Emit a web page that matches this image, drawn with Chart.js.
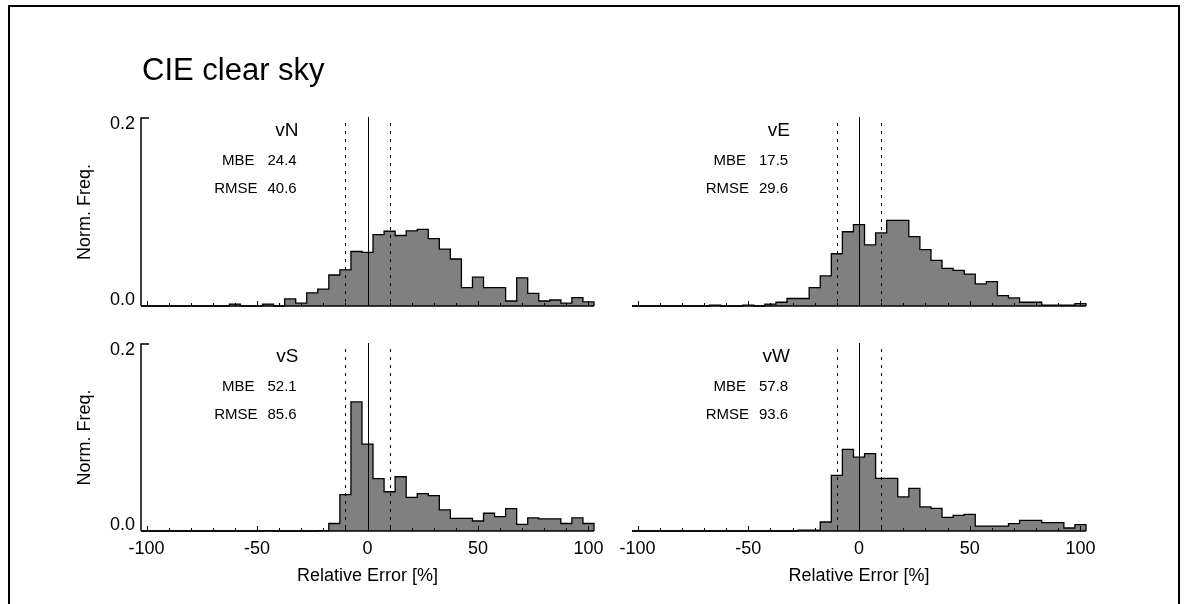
<!DOCTYPE html>
<html>
<head>
    <title>CIE clear sky</title>
    <script src="https://cdn.jsdelivr.net/npm/chart.js"></script>
    <style>
        body { margin: 0; background: #fff; }
        #wrap { position: relative; width: 1184px; height: 604px; overflow: hidden; }
        #frame { position: absolute; left: 8px; top: 5px; width: 1168px; height: 620px;
                 border: 2px solid #000; border-bottom: none; }
        canvas { position: absolute; left: 0; top: 0; }
    </style>
</head>
<body>
<div id="wrap">
    <div id="frame"></div>
    <canvas id="c0" width="1184" height="604"></canvas>
    <canvas id="c1" width="1184" height="604"></canvas>
    <canvas id="c2" width="1184" height="604"></canvas>
    <canvas id="c3" width="1184" height="604"></canvas>
</div>

<script>
// bin centres of the histograms (relative error, %)
var binCenters = [-100, -95, -90, -85, -80, -75, -70, -65, -60, -55, -50, -45, -40, -35, -30, -25, -20,
    -15, -10, -5, 0, 5, 10, 15, 20, 25, 30, 35, 40, 45, 50, 55, 60, 65, 70, 75, 80, 85, 90, 95, 100];

// normalised frequencies, one per bin
var freqN = [0, 0, 0, 0, 0, 0, 0, 0, 0.002, 0, 0, 0.002, 0, 0.0075, 0.003, 0.014, 0.018,
    0.033, 0.0385, 0.058, 0.057, 0.076, 0.0795, 0.075, 0.080, 0.0816, 0.0717, 0.0606, 0.050, 0.0196,
    0.0307, 0.0196, 0.0196, 0.0053, 0.030, 0.0135, 0.0053, 0.0064, 0.003, 0.009, 0.0043];
var freqE = [0, 0, 0, 0, 0, 0, 0, 0.001, 0, 0, 0.001, 0, 0.002, 0.004, 0.008, 0.008, 0.0196,
    0.032, 0.0556, 0.079, 0.0866, 0.065, 0.0777, 0.091, 0.091, 0.0738, 0.060, 0.0485, 0.040, 0.0378,
    0.034, 0.0235, 0.026, 0.011, 0.0086, 0.004, 0.004, 0.001, 0.001, 0.001, 0.0025];
var freqS = [0, 0, 0, 0, 0, 0, 0, 0, 0, 0, 0, 0.0005, 0, 0, 0, 0, 0.0005,
    0.008, 0.039, 0.138, 0.093, 0.056, 0.042, 0.058, 0.036, 0.040, 0.0378, 0.0225, 0.0135, 0.0135,
    0.0107, 0.019, 0.0153, 0.024, 0.007, 0.014, 0.013, 0.013, 0.008, 0.014, 0.008];
var freqW = [0, 0, 0, 0, 0, 0, 0, 0, 0, 0, 0, 0, 0, 0, 0, 0.001, 0.001,
    0.0096, 0.0595, 0.0873, 0.079, 0.0827, 0.0563, 0.0563, 0.0364, 0.0456, 0.0257, 0.0242, 0.0146, 0.0168,
    0.0178, 0.0053, 0.0053, 0.0053, 0.0078, 0.0114, 0.0114, 0.0089, 0.0089, 0.0032, 0.0068];

var panelNames = ['vN', 'vE', 'vS', 'vW'];
var mbeValues = ['24.4', '17.5', '52.1', '57.8'];
var rmseValues = ['40.6', '29.6', '85.6', '93.6'];
var xTickLabels = ['-100', '-50', '0', '50', '100'];
var yTickLabels = ['0.0', '0.2'];
var refLines = [-10, 0, 10];

var FONT = '"Liberation Sans", Arial, Helvetica, sans-serif';

// edges of the step outline: left edge of each bin, then close at the right edge
function stepPoints(values) {
    var half = (binCenters[1] - binCenters[0]) / 2;
    var pts = values.map(function (v, i) { return {x: binCenters[i] - half, y: v}; });
    var last = binCenters[binCenters.length - 1] + half;
    pts.push({x: last, y: values[values.length - 1]});
    pts.push({x: last, y: 0});
    return pts;
}

var panels = [
    {id: 'c0', values: freqN, pad: {left: 141, right: 590, top: 118, bottom: 298}, leftAxis: true, bottomLabels: false},
    {id: 'c1', values: freqE, pad: {left: 632, right: 98, top: 118, bottom: 298}, leftAxis: false, bottomLabels: false},
    {id: 'c2', values: freqS, pad: {left: 141, right: 590, top: 344, bottom: 73}, leftAxis: true, bottomLabels: true},
    {id: 'c3', values: freqW, pad: {left: 632, right: 98, top: 344, bottom: 73}, leftAxis: false, bottomLabels: true}
];

function makeDecor(p, idx) {
    return {
        id: 'decor' + idx,
        afterDatasetsDraw: function (chart) {
            var ctx = chart.ctx;
            var xs = chart.scales.x, ys = chart.scales.y;
            var area = chart.chartArea;
            var y0 = ys.getPixelForValue(0), yTop = ys.getPixelForValue(0.2);
            var x0 = xs.getPixelForValue(0);
            ctx.save();
            ctx.strokeStyle = '#000';
            ctx.fillStyle = '#000';

            // reference lines at -10, 0, +10
            refLines.forEach(function (v) {
                var px = Math.round(xs.getPixelForValue(v)) + 0.5;
                ctx.beginPath();
                ctx.lineWidth = 1;
                if (v === 0) {
                    ctx.setLineDash([]);
                    ctx.moveTo(px, yTop - 1);
                } else {
                    ctx.setLineDash([3, 5]);
                    ctx.moveTo(px, yTop + 5);
                }
                ctx.lineTo(px, y0);
                ctx.stroke();
            });
            ctx.setLineDash([]);

            // x axis with inward ticks
            ctx.lineWidth = 1.5;
            ctx.beginPath();
            ctx.moveTo(area.left, y0);
            ctx.lineTo(area.right, y0);
            ctx.stroke();
            ctx.lineWidth = 1;
            for (var t = -100; t <= 100; t += 10) {
                var tx = Math.round(xs.getPixelForValue(t)) + 0.5;
                var len = (t % 50 === 0) ? 5 : 3;
                ctx.beginPath();
                ctx.moveTo(tx, y0);
                ctx.lineTo(tx, y0 - len);
                ctx.stroke();
            }

            // y axis (left panels only)
            if (p.leftAxis) {
                ctx.lineWidth = 1.5;
                ctx.beginPath();
                ctx.moveTo(area.left + 8, yTop);
                ctx.lineTo(area.left, yTop);
                ctx.lineTo(area.left, y0);
                ctx.stroke();
                ctx.font = '18px ' + FONT;
                ctx.textAlign = 'right';
                ctx.textBaseline = 'middle';
                ctx.fillText(yTickLabels[1], area.left - 6, yTop + 6);
                ctx.fillText(yTickLabels[0], area.left - 6, y0 - 6);
                ctx.save();
                ctx.translate(85, (yTop + y0) / 2);
                ctx.rotate(-Math.PI / 2);
                ctx.textAlign = 'center';
                ctx.fillText('Norm. Freq.', 0, 0);
                ctx.restore();
            }

            // x tick labels and title (bottom panels only)
            if (p.bottomLabels) {
                ctx.font = '18px ' + FONT;
                ctx.textAlign = 'center';
                ctx.textBaseline = 'middle';
                xTickLabels.forEach(function (lab) {
                    ctx.fillText(lab, xs.getPixelForValue(Number(lab)), y0 + 18);
                });
                ctx.fillText('Relative Error [%]', x0, y0 + 45);
            }

            // panel annotations
            ctx.textBaseline = 'middle';
            ctx.font = '19px ' + FONT;
            ctx.textAlign = 'right';
            ctx.fillText(panelNames[idx], x0 - 69, yTop + 13);
            ctx.font = '15px ' + FONT;
            ctx.fillText('MBE', x0 - 113, yTop + 43);
            ctx.fillText('RMSE', x0 - 110, yTop + 71);
            ctx.textAlign = 'left';
            ctx.fillText(mbeValues[idx], x0 - 100, yTop + 43);
            ctx.fillText(rmseValues[idx], x0 - 100, yTop + 71);

            // main title on the first panel
            if (idx === 0) {
                ctx.font = '31px ' + FONT;
                ctx.textAlign = 'left';
                ctx.textBaseline = 'alphabetic';
                ctx.fillText('CIE clear sky', 142, 80);
            }
            ctx.restore();
        }
    };
}

panels.forEach(function (p, idx) {
    var ctx = document.getElementById(p.id).getContext('2d');
    new Chart(ctx, {
        type: 'line',
        data: {
            datasets: [{
                data: stepPoints(p.values),
                stepped: true,
                fill: 'origin',
                backgroundColor: '#808080',
                borderColor: '#000',
                borderWidth: 1.3,
                pointRadius: 0,
                clip: false
            }]
        },
        options: {
            responsive: false,
            animation: false,
            devicePixelRatio: 1,
            layout: {padding: p.pad},
            plugins: {legend: {display: false}, tooltip: {enabled: false}},
            scales: {
                x: {type: 'linear', min: -102.5, max: 102.5, display: false},
                y: {min: 0, max: 0.2, display: false}
            }
        },
        plugins: [makeDecor(p, idx)]
    });
});
</script>
</body>
</html>
